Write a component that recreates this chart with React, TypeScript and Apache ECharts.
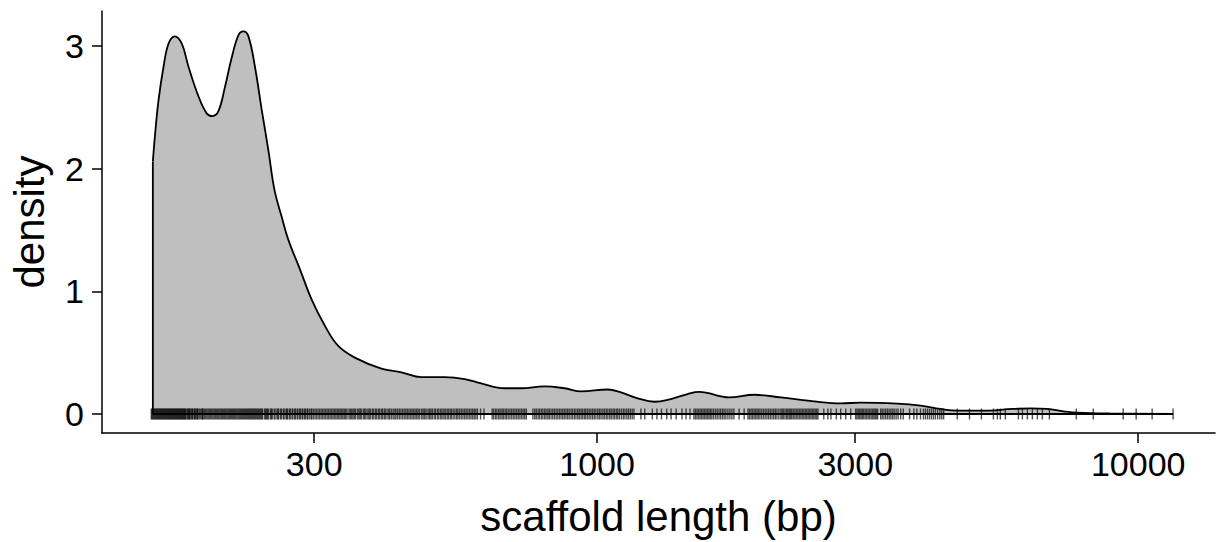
import React, { useEffect, useRef } from "react";
import * as echarts from "echarts";

// Density curve: scaffold length (bp) and estimated density
const lengths = [
  151, 152.5, 154.7, 158, 161.4, 165.8, 170.8, 175.8, 183.4, 190, 194.6, 199.6, 205.3, 211.3,
  217.4, 222, 226.8, 233.2, 240, 246.9, 253.3, 261.2, 268.8, 282.4, 296.7, 314, 332.4, 356.6,
  399.5, 434.9, 473.5, 522.8, 569.1, 610.7, 674.5, 724, 799.4, 870.1, 934.4, 1046.5, 1107, 1189,
  1276, 1369, 1470, 1544, 1754, 1952, 2186, 2517, 2820, 3070, 3587, 3962, 4312, 4630, 5110, 5881,
  6321, 6787, 7282, 7709, 8881, 11602,
];
const density = [
  2.06, 2.29, 2.56, 2.83, 3.02, 3.08, 3.02, 2.83, 2.59, 2.45, 2.43, 2.47, 2.67, 2.91,
  3.09, 3.12, 3.08, 2.83, 2.48, 2.15, 1.83, 1.61, 1.42, 1.18, 0.935, 0.72, 0.555, 0.46,
  0.37, 0.34, 0.3, 0.3, 0.285, 0.25, 0.21, 0.21, 0.225, 0.21, 0.185, 0.2, 0.176, 0.128,
  0.1, 0.122, 0.163, 0.18, 0.135, 0.157, 0.135, 0.103, 0.087, 0.092, 0.084, 0.068, 0.041, 0.027, 0.027, 0.041,
  0.046, 0.041, 0.022, 0.011, 0.004, 0,
];

// Rug: individual scaffold lengths (bp)
const rug = [
  150, 150.5, 151, 151.5, 152, 152.5, 153, 153.5, 154, 154.5, 155, 155.5, 156, 156.5, 157, 157.5,
  158, 158.5, 159, 159.5, 160, 160.5, 161, 161.5, 162, 162.5, 163, 163.5, 164, 164.5, 165, 165.5,
  166, 166.5, 167, 167.5, 168, 168.5, 169, 169.5, 170, 170.5, 171, 171.5, 172, 172.5, 173, 173.5,
  174, 175, 175.5, 176, 176.5, 177, 178, 178.5, 179, 180, 180.5, 181, 182, 182.5, 183, 184, 185,
  186, 186.5, 187, 188, 189, 190, 191, 192, 193, 194, 195, 196, 197, 198, 199, 200, 201, 202, 203,
  204, 205, 206, 207, 208, 209, 210, 211, 212, 213, 214, 215, 216, 217, 218, 219, 220, 221, 222,
  223, 224, 225, 226, 227, 228, 229, 230, 231, 232, 233, 234, 235, 236, 237, 238, 239, 240, 241,
  243, 244, 245, 246, 247, 249, 250, 251, 253, 254, 256, 257, 258, 260, 261, 263, 264, 266, 267,
  268, 270, 271, 273, 274, 276, 277, 279, 280, 282, 283, 285, 286, 288, 289, 291, 292, 294, 296,
  297, 299,
  301, 303, 305, 307, 309, 311, 313, 315, 317, 319, 321, 323, 325, 327, 329, 331, 333, 335, 337,
  339, 341, 343, 345, 348, 350, 352, 354, 356, 358, 361, 363, 365, 367, 370, 372, 374, 377, 379,
  381, 384, 386, 389, 391, 394, 396, 399, 401, 404, 406, 409, 412, 414, 417, 420, 423, 425, 428,
  431, 434, 437, 440, 443, 446, 449, 452, 455, 458, 461, 464, 467, 470, 474, 477, 480, 483, 487,
  490, 493, 496, 500, 503, 507, 510, 514, 517, 521, 524, 528, 531, 535, 538, 542, 546, 550, 553,
  557, 561, 565, 569, 573, 577, 581, 585, 589, 593, 597, 601, 609, 618, 640, 644, 649, 653, 658,
  662, 667, 671, 676, 680, 685, 690, 695, 700, 705, 710, 715, 720, 725, 730, 735, 740, 761, 767,
  772, 778, 783, 789, 794, 800, 805, 811, 816, 822, 828, 834, 840, 846, 852, 858, 864, 870, 876,
  882, 888, 895, 901, 908, 914, 921, 927, 934, 940, 947, 953, 960, 967, 974, 981, 988, 995,
  1003, 1010, 1017, 1025, 1032, 1040, 1047, 1055, 1062, 1070, 1077, 1085, 1092, 1100, 1109, 1118,
  1126, 1135, 1143, 1152, 1161, 1170, 1205, 1225, 1265, 1290, 1315, 1345, 1370, 1400, 1435, 1460,
  1485, 1510, 1520, 1530, 1540, 1550, 1560, 1570, 1580, 1590, 1600, 1610, 1620, 1630, 1642, 1655,
  1667, 1680, 1692, 1705, 1717, 1730, 1745, 1760, 1775, 1790, 1830, 1870, 1900, 1912, 1925, 1937,
  1950, 1962, 1975, 1987, 2000, 2015, 2030, 2045, 2060, 2075, 2090, 2105, 2120, 2135, 2150, 2168,
  2186, 2198, 2210, 2225, 2240, 2252, 2265, 2278, 2290, 2305, 2320, 2335, 2350, 2365, 2380, 2395,
  2410, 2425, 2440, 2455, 2470, 2485, 2500, 2515, 2530, 2545, 2560, 2624, 2670, 2705, 2768, 2820,
  2881, 2943, 3005, 3022, 3040, 3057, 3075, 3092, 3110, 3130, 3150, 3170, 3190, 3210, 3230, 3248,
  3265, 3282, 3300, 3343, 3365, 3390, 3415, 3440, 3465, 3490, 3515, 3540, 3570, 3600, 3640, 3680,
  3780, 3850, 3900, 3960, 4010, 4045, 4080, 4115, 4150, 4185, 4220, 4260, 4300, 4335, 4370,
  4630, 4878, 5132, 5401, 5493, 5563, 5683, 6007, 6110, 6241, 6375, 6512, 6652, 6853, 7686, 8261, 9383,
  9915, 10613, 11602,
];

const xTicks = [300, 1000, 3000, 10000];
const yTicks = [0, 1, 2, 3];

const FONT = "'Liberation Sans', Arial, sans-serif";

export default function App() {
  const ref = useRef<HTMLDivElement>(null);
  useEffect(() => {
    if (!ref.current) return;
    const chart = echarts.init(ref.current, undefined, { renderer: "svg" });
    const lg = (v: number) => Math.log10(v);
    const curve = lengths.map((l, i) => [lg(l), density[i]]);
    const outline = [
      [lg(lengths[0]), density[0]],
      [lg(lengths[0]), 0],
      [lg(lengths[lengths.length - 1]), 0],
    ];
    chart.setOption({
      animation: false,
      backgroundColor: "#ffffff",
      grid: { left: 100, right: 3, top: 11, bottom: 108 },
      xAxis: {
        type: "value",
        min: 2.085,
        max: 4.142,
        name: "scaffold length (bp)",
        nameLocation: "middle",
        nameGap: 62,
        nameTextStyle: { fontSize: 42, color: "#000", fontFamily: FONT },
        axisLine: { show: true, onZero: false, lineStyle: { color: "#000", width: 1.5 } },
        axisTick: {
          show: true,
          length: 10,
          lineStyle: { color: "#000", width: 1.5 },
          customValues: xTicks.map(lg),
        },
        axisLabel: {
          fontSize: 34,
          color: "#000",
          fontFamily: FONT,
          margin: 14,
          customValues: xTicks.map(lg),
          formatter: (v: number) => String(Math.round(Math.pow(10, v))),
        },
        splitLine: { show: false },
      },
      yAxis: {
        type: "value",
        min: -0.155,
        max: 3.287,
        name: "density",
        nameLocation: "middle",
        nameGap: 52,
        nameRotate: 90,
        nameTextStyle: { fontSize: 42, color: "#000", fontFamily: FONT },
        axisLine: { show: true, onZero: false, lineStyle: { color: "#000", width: 1.5 } },
        axisTick: {
          show: true,
          length: 10,
          lineStyle: { color: "#000", width: 1.5 },
          customValues: yTicks,
        },
        axisLabel: {
          fontSize: 34,
          color: "#000",
          fontFamily: FONT,
          margin: 18,
          customValues: yTicks,
        },
        splitLine: { show: false },
      },
      series: [
        {
          type: "line",
          data: curve,
          smooth: 0.4,
          showSymbol: false,
          lineStyle: { color: "#000", width: 1.8 },
          areaStyle: { color: "#bfbfbf", opacity: 1 },
          z: 2,
        },
        {
          type: "line",
          data: outline,
          showSymbol: false,
          lineStyle: { color: "#000", width: 1.8 },
          z: 3,
        },
        {
          type: "scatter",
          data: rug.map((v) => [lg(v), 0]),
          symbol: "rect",
          symbolSize: [1.4, 11],
          itemStyle: { color: "rgba(0,0,0,0.85)" },
          z: 4,
        },
      ],
    });
    return () => chart.dispose();
  }, []);
  return (
    <div
      ref={ref}
      style={{ position: "fixed", left: 0, top: 0, width: 1218, height: 542, background: "#fff" }}
    />
  );
}
